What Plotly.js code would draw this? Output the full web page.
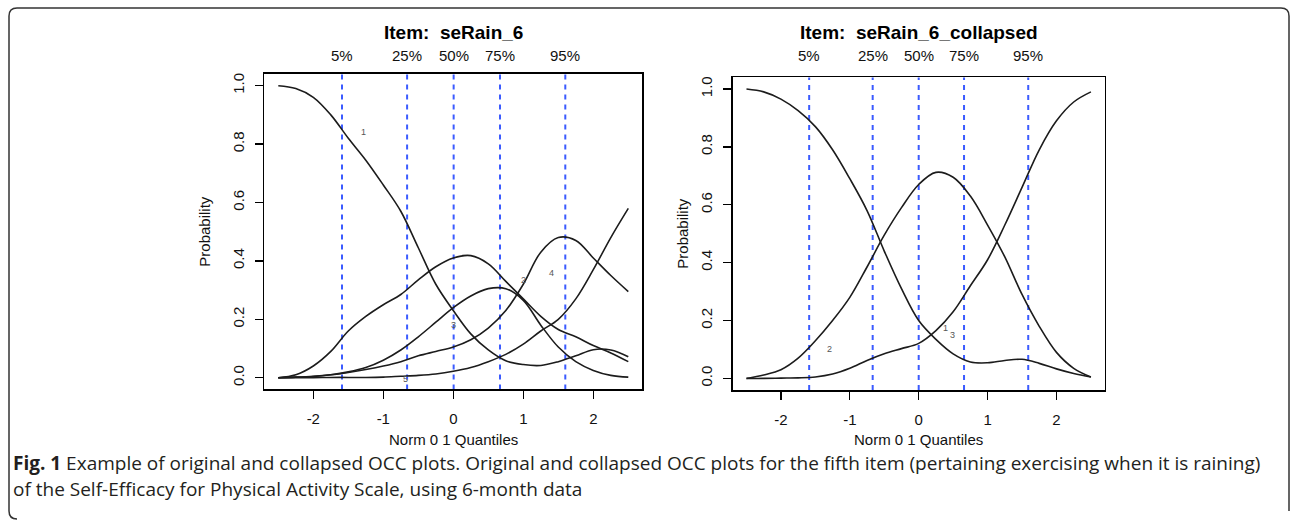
<!DOCTYPE html>
<html>
<head>
<meta charset="utf-8">
<script src="https://cdn.plot.ly/plotly-3.0.1.min.js"></script>
<style>
html,body{margin:0;padding:0;background:#fff;}
#chart{width:1292px;height:521px;}
</style>
</head>
<body>
<div id="chart"></div>
<script>
// ---- data ----
var thetaGrid = [-2.5,-2.25,-2,-1.75,-1.5,-1.25,-1,-0.75,-0.5,-0.25,0,0.25,0.5,0.75,1,1.25,1.5,1.75,2,2.25,2.5];

// original item seRain_6
var orig1 = [1.0,0.99,0.96,0.90,0.82,0.745,0.66,0.57,0.445,0.32,0.23,0.15,0.095,0.058,0.045,0.042,0.055,0.075,0.096,0.095,0.072];
var orig2 = [0.0,0.01,0.04,0.09,0.16,0.21,0.25,0.285,0.335,0.38,0.41,0.418,0.39,0.33,0.27,0.21,0.165,0.14,0.11,0.085,0.055];
var orig3 = [0.0,0.002,0.004,0.01,0.02,0.035,0.06,0.095,0.14,0.19,0.24,0.28,0.305,0.305,0.265,0.18,0.105,0.055,0.025,0.008,0.002];
var orig4 = [0.0,0.002,0.005,0.01,0.018,0.028,0.04,0.055,0.075,0.09,0.105,0.13,0.17,0.23,0.32,0.43,0.48,0.47,0.41,0.35,0.295];
var orig5 = [0.0,0.0,0.0,0.001,0.001,0.001,0.002,0.005,0.008,0.013,0.022,0.035,0.055,0.08,0.115,0.16,0.2,0.27,0.37,0.48,0.58];

// collapsed item seRain_6_collapsed
var coll1 = [1.0,0.99,0.965,0.925,0.87,0.79,0.69,0.58,0.44,0.31,0.20,0.135,0.085,0.057,0.054,0.062,0.066,0.052,0.033,0.017,0.005];
var coll2 = [0.0,0.012,0.03,0.07,0.13,0.2,0.28,0.385,0.495,0.59,0.67,0.712,0.695,0.63,0.53,0.42,0.29,0.18,0.09,0.035,0.005];
var coll3 = [0.0,0.0,0.001,0.002,0.005,0.015,0.035,0.062,0.085,0.103,0.121,0.165,0.23,0.32,0.41,0.53,0.66,0.79,0.89,0.955,0.99];

var quantLabels = ["5%","25%","50%","75%","95%"];
var quantOrig = [-1.59,-0.66,0.005,0.667,1.6];
var quantColl = [-1.59,-0.668,0.0,0.658,1.59];

var xTicks = [-2,-1,0,1,2];
var yTicks = [0,0.2,0.4,0.6,0.8,1.0];
var yTickText = ["0.0","0.2","0.4","0.6","0.8","1.0"];

var titleOrig = "Item:  seRain_6";
var titleColl = "Item:  seRain_6_collapsed";

var labelsOrig = {text:["1","3","2","4","5"], x:[-1.29,0.0,1.0,1.4,-0.69], y:[0.842,0.18,0.334,0.36,-0.005]};
var labelsColl = {text:["2","1","3"], x:[-1.3,0.39,0.49], y:[0.10,0.175,0.15]};

var caption1Bold = "Fig. 1";
var caption1 = " Example of original and collapsed OCC plots. Original and collapsed OCC plots for the fifth item (pertaining exercising when it is raining)";
var caption2 = "of the Self-Efficacy for Physical Activity Scale, using 6-month data";

// ---- build ----
var W = 1292, H = 521;
function px(x){return x/W;}
function py(y){return 1 - y/H;}

var plotFont = "Liberation Sans, Arial, Helvetica, sans-serif";
var curveLine = {color:"#1c1c1c", width:1.6, shape:"spline", smoothing:1.0};

var traces = [];
[orig1,orig2,orig3,orig4,orig5].forEach(function(c){
  traces.push({x:thetaGrid, y:c, xaxis:"x", yaxis:"y", mode:"lines", line:curveLine, hoverinfo:"skip", showlegend:false});
});
[coll1,coll2,coll3].forEach(function(c){
  traces.push({x:thetaGrid, y:c, xaxis:"x2", yaxis:"y2", mode:"lines", line:curveLine, hoverinfo:"skip", showlegend:false});
});

var shapes = [];
var annotations = [];
function ann(o){ o.showarrow = false; if(!o.xanchor) o.xanchor = "center"; if(!o.yanchor) o.yanchor = "middle"; annotations.push(o); }

function addQuant(qs, xr){
  qs.forEach(function(q, i){
    shapes.push({type:"line", xref:xr, yref:(xr==="x"?"y":"y2")+" domain", x0:q, x1:q, y0:0, y1:1,
      line:{color:"#3b5bff", width:2, dash:"5px,5px"}, layer:"below"});
    ann({xref:xr, yref:"paper", x:q, y:py(55), text:quantLabels[i],
      font:{family:plotFont, size:15, color:"#111"}});
  });
}
addQuant(quantOrig, "x");
addQuant(quantColl, "x2");

function addTexts(lbl, xr, yr){
  lbl.text.forEach(function(t,i){
    ann({xref:xr, yref:yr, x:lbl.x[i], y:lbl.y[i], text:t,
      font:{family:plotFont, size:9, color:"#555"}});
  });
}
addTexts(labelsOrig, "x", "y");
addTexts(labelsColl, "x2", "y2");

// titles
ann({xref:"x domain", yref:"paper", x:0.5, y:py(33), text:"<b>"+titleOrig+"</b>",
  font:{family:plotFont, size:19, color:"#000"}});
ann({xref:"x2 domain", yref:"paper", x:0.5, y:py(33), text:"<b>"+titleColl+"</b>",
  font:{family:plotFont, size:19, color:"#000"}});
// axis titles
ann({xref:"x domain", yref:"paper", x:0.5, y:py(439), text:"Norm 0 1 Quantiles",
  font:{family:plotFont, size:15, color:"#111"}});
ann({xref:"x2 domain", yref:"paper", x:0.5, y:py(439), text:"Norm 0 1 Quantiles",
  font:{family:plotFont, size:15, color:"#111"}});
ann({xref:"paper", yref:"y domain", x:px(205), y:0.5, text:"Probability", textangle:-90,
  font:{family:plotFont, size:15, color:"#111"}});
ann({xref:"paper", yref:"y2 domain", x:px(683), y:0.5, text:"Probability", textangle:-90,
  font:{family:plotFont, size:15, color:"#111"}});
// caption
var capFont = "Open Sans, Noto Sans, sans-serif";
ann({xref:"paper", yref:"paper", x:px(11), y:py(463), xanchor:"left",
  text:"<b>"+caption1Bold+"</b>"+caption1, font:{family:capFont, size:19, color:"#231f20"}});
ann({xref:"paper", yref:"paper", x:px(11), y:py(489), xanchor:"left",
  text:caption2, font:{family:capFont, size:19, color:"#231f20"}});

// frame
var L = px(9), T = py(8), R = px(1289), B = py(519);
var rx = 8/W, ry = 8/H;
shapes.push({type:"path", xref:"paper", yref:"paper",
  path:"M "+(L+rx)+","+B+" Q "+L+","+B+" "+L+","+(B+ry)+" L "+L+","+(T-ry)+" Q "+L+","+T+" "+(L+rx)+","+T+
       " L "+(R-rx)+","+T+" Q "+R+","+T+" "+R+","+(T-ry)+" L "+R+","+(B+ry),
  line:{color:"#333", width:1.5}});

function xAxis(dom, anchor){
  return {domain:dom, anchor:anchor, range:[-2.7,2.7], tickvals:xTicks, ticktext:xTicks.map(String),
    showline:true, mirror:true, linecolor:"#000", linewidth:1.6, ticks:"outside", ticklen:8, tickwidth:1.3,
    tickcolor:"#000", showgrid:false, zeroline:false, ticklabelstandoff:7,
    tickfont:{family:plotFont, size:15, color:"#111"}, fixedrange:true};
}
function yAxis(dom, anchor){
  return {domain:dom, anchor:anchor, range:[-0.04,1.04], tickvals:yTicks, ticktext:yTickText, tickangle:-90,
    showline:true, mirror:true, linecolor:"#000", linewidth:1.6, ticks:"outside", ticklen:8, tickwidth:1.3,
    tickcolor:"#000", showgrid:false, zeroline:false, ticklabelstandoff:5,
    tickfont:{family:plotFont, size:15, color:"#111"}, fixedrange:true};
}

var layout = {
  width:W, height:H, margin:{l:0,r:0,t:0,b:0}, paper_bgcolor:"#fff", plot_bgcolor:"#fff",
  showlegend:false,
  xaxis: xAxis([px(264.3), px(642.3)], "y"),
  yaxis: yAxis([py(389.4), py(74)], "x"),
  xaxis2: xAxis([px(732.7), px(1104.7)], "y2"),
  yaxis2: yAxis([py(390), py(77.4)], "x2"),
  shapes:shapes, annotations:annotations
};

Plotly.newPlot("chart", traces, layout, {displayModeBar:false, staticPlot:true});
</script>
</body>
</html>
